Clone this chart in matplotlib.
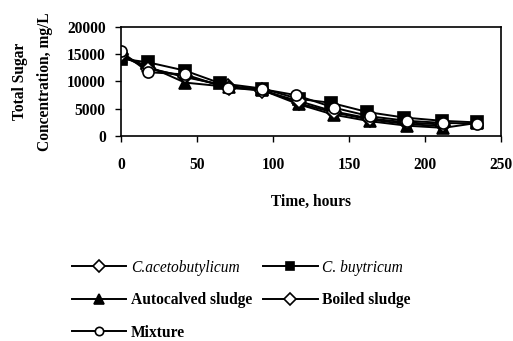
import matplotlib.pyplot as plt
from matplotlib.lines import Line2D

plt.rcParams['font.family'] = ['Liberation Serif', 'DejaVu Serif']

# data
t_aceto = [0, 18, 42, 70, 93, 117, 140, 164, 188, 212]
aceto = [15000, 12500, 10800, 9200, 8500, 6000, 4300, 3000, 2200, 1800]

t_buty = [0, 18, 42, 65, 93, 117, 138, 162, 186, 211, 234]
buty = [14200, 13500, 12000, 9700, 8700, 6800, 6100, 4400, 3400, 2800, 2500]

t_auto = [0, 18, 42, 71, 93, 117, 140, 164, 188, 212, 234]
auto = [14500, 12800, 9800, 9000, 8400, 5800, 3900, 2700, 1900, 1500, 2400]

t_boiled = [0, 18, 42, 71, 93, 117, 140, 164, 188, 212]
boiled = [14800, 12300, 11000, 8900, 8300, 6400, 4500, 3200, 2500, 2100]

t_mix = [0, 18, 42, 70, 93, 115, 140, 164, 188, 212, 234]
mix = [15500, 11700, 11300, 8800, 8600, 7500, 5200, 3600, 2800, 2400, 2300]

fs = 11.2
fig = plt.figure(figsize=(5.13, 3.41), dpi=100)
ax = fig.add_axes([0.236, 0.601, 0.741, 0.32])

kw = dict(color='black', lw=1.4, mew=1.2, mec='black')
ax.plot(t_aceto, aceto, marker='D', ms=7, mfc='white', **kw)
ax.plot(t_buty, buty, marker='s', ms=9, mfc='black', **kw)
ax.plot(t_auto, auto, marker='^', ms=9, mfc='black', **kw)
ax.plot(t_boiled, boiled, marker='D', ms=7, mfc='white', **kw)
ax.plot(t_mix, mix, marker='o', ms=8, mfc='white', **kw)

ax.set_xlim(0, 250)
ax.set_ylim(0, 20000)
ax.set_xticks([0, 50, 100, 150, 200, 250])
ax.set_yticks([0, 5000, 10000, 15000, 20000])
ax.tick_params(direction='out', length=4, width=1, labelsize=fs, pad=7)
ax.tick_params(axis='x', pad=11)
for lab in ax.get_xticklabels() + ax.get_yticklabels():
    lab.set_fontweight('bold')
for s in ax.spines.values():
    s.set_linewidth(1.2)

ax.set_xlabel('Time, hours', fontsize=fs, fontweight='bold', labelpad=15)
ax.set_ylabel('Total Sugar\nConcentration, mg/L', fontsize=fs,
              fontweight='bold', labelpad=10, linespacing=1.75)

h_aceto = Line2D([], [], marker='D', ms=6, mfc='white', **kw)
h_buty = Line2D([], [], marker='s', ms=6, mfc='black', **kw)
h_auto = Line2D([], [], marker='^', ms=7, mfc='black', **kw)
h_boiled = Line2D([], [], marker='D', ms=6, mfc='white', **kw)
h_mix = Line2D([], [], marker='o', ms=6, mfc='white', **kw)

# column-major order so rows read: aceto/buty, auto/boiled, mixture
handles = [h_aceto, h_auto, h_mix, h_buty, h_boiled]
labels = ['C.acetobutylicum', 'Autocalved sludge', 'Mixture',
          'C. buytricum', 'Boiled sludge']
leg = fig.legend(handles, labels, ncol=2, loc='upper left',
                 bbox_to_anchor=(0.14, 0.238), frameon=False,
                 borderpad=0, borderaxespad=0,
                 fontsize=fs, handlelength=3.5, handletextpad=0.3,
                 columnspacing=0.7, labelspacing=1.05)
texts = leg.get_texts()
texts[0].set_fontstyle('italic')
texts[3].set_fontstyle('italic')
for i in (1, 2, 4):
    texts[i].set_fontweight('bold')

fig.savefig('out.png', dpi=100)
